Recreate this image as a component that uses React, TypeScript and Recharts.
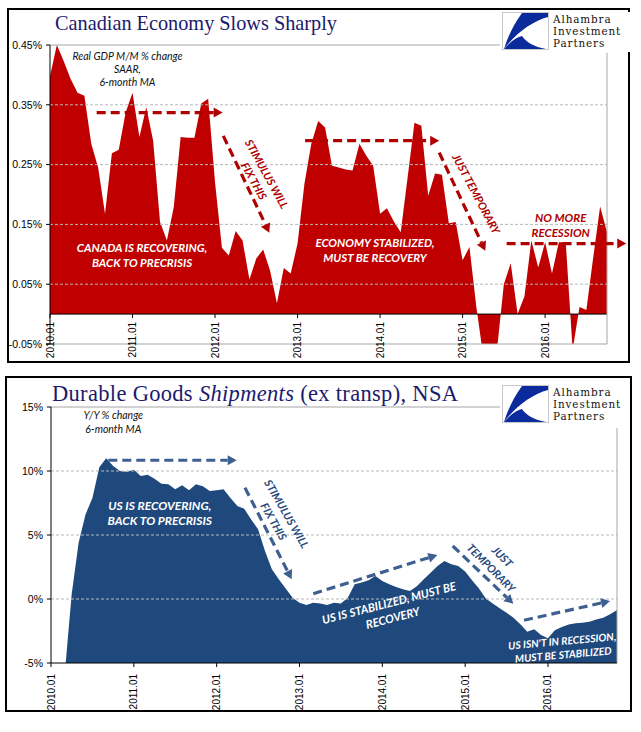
import React from 'react'
import { AreaChart, Area, XAxis, YAxis, ReferenceLine, ReferenceDot } from 'recharts'

// month index 0 = 2010.01
const yearLabels = ['2010.01', '2011.01', '2012.01', '2013.01', '2014.01', '2015.01', '2016.01']
const yearTicks = [0, 12, 24, 36, 48, 60, 72]

// Canada real GDP, M/M % change SAAR, 6-month MA (2010.01 - 2016.10)
const gdpMA = [
  0.398, 0.45, 0.423, 0.393, 0.37, 0.365, 0.285, 0.245, 0.168, 0.269,
  0.275, 0.337, 0.37, 0.296, 0.346, 0.29, 0.154, 0.123, 0.179, 0.296,
  0.295, 0.295, 0.352, 0.36, 0.22, 0.111, 0.098, 0.139, 0.123, 0.058,
  0.093, 0.108, 0.073, 0.018, 0.077, 0.068, 0.118, 0.218, 0.285, 0.323,
  0.312, 0.248, 0.245, 0.242, 0.24, 0.285, 0.265, 0.248, 0.168, 0.177,
  0.155, 0.137, 0.228, 0.32, 0.315, 0.198, 0.235, 0.233, 0.152, 0.154,
  0.09, 0.112, 0.012, -0.07, -0.07, -0.06, 0.05, 0.085, 0.0, 0.03,
  0.123, 0.078, 0.12, 0.068, 0.12, 0.12, -0.06, 0.012, 0.007, 0.095,
  0.18, 0.137,
]
const gdpTicks = [-0.05, 0.05, 0.15, 0.25, 0.35, 0.45]
const gdpGrid = [0.05, 0.15, 0.25, 0.35]

// US durable goods shipments ex transp, Y/Y %, 6-month MA (2010.01 - 2016.11)
const durablesMA = [
  -9, -8, -5.8, 0.4, 4.4, 6.6, 7.9, 10.3, 11.0, 10.4,
  10.0, 9.95, 10.1, 9.6, 9.7, 9.4, 9.0, 8.96, 8.57, 8.88,
  8.49, 8.96, 8.8, 8.44, 8.5, 8.57, 7.9, 7.27, 7.06, 6.22,
  5.44, 3.75, 2.32, 1.54, 0.83, 0.1, -0.29, -0.47, -0.29, -0.36,
  -0.47, -0.29, -0.36, 0.1, 1.15, 1.28, 1.46, 1.8, 1.4, 1.15,
  0.94, 0.76, 0.63, 1.0, 1.54, 2.06, 2.58, 2.97, 2.71, 2.58,
  2.14, 1.46, 0.83, 0.03, -0.36, -0.73, -1.07, -1.46, -1.98, -2.55,
  -2.37, -2.81, -3.07, -2.45, -2.19, -2.0, -1.9, -1.85, -1.77, -1.61,
  -1.46, -1.2, -0.86,
]
const durTicks = [-5, 0, 5, 10, 15]
const durGrid = [0, 5, 10]

const gdpData = gdpMA.map((v, i) => ({ i, v }))
const durData = durablesMA.map((v, i) => ({ i, v }))

const RED = '#c00000'
const DARKRED = '#b00000'
const BLUE = '#1f497d'
const ARROWBLUE = '#3e6090'
const TEXTBLUE = '#274a7a'
const GRID = '#b8b8b8'
const NOTE_FONT = 'Lato, "Open Sans", sans-serif'
const TICK_FONT = '"Liberation Sans", Arial, sans-serif'
const TITLE_FONT = '"Liberation Serif", "Times New Roman", serif'

const YearTick = (props: any) => {
  const { x, y, payload, lift = 0 } = props
  const label = yearLabels[yearTicks.indexOf(payload.value)]
  return (
    <g transform={`translate(${x},${y - lift})`}>
      {lift > 0 && <line x1={0} x2={0} y1={-8} y2={-4} stroke="#000" />}
      <text transform="rotate(-90)" textAnchor="end" dy="0.35em" fontSize={10} fontFamily={TICK_FONT} fill="#000">
        {label}
      </text>
    </g>
  )
}

const arrow = (color: string) => (p: any) => {
  const { x1, y1, x2, y2 } = p
  const a = Math.atan2(y2 - y1, x2 - x1)
  const len = 9
  const w = 5
  const bx = x2 - len * Math.cos(a)
  const by = y2 - len * Math.sin(a)
  const pts = `${x2},${y2} ${bx - w * Math.sin(a)},${by + w * Math.cos(a)} ${bx + w * Math.sin(a)},${by - w * Math.cos(a)}`
  return (
    <g>
      <line x1={x1} y1={y1} x2={bx} y2={by} stroke={color} strokeWidth={3.2} strokeDasharray="9 5" />
      <polygon points={pts} fill={color} />
    </g>
  )
}

interface NoteOpts {
  color: string
  size: number
  gap?: number
  rotate?: number
  bold?: boolean
  central?: boolean
}

const note = (lines: string[], o: NoteOpts) => (p: any) => (
  <text
    transform={`rotate(${o.rotate || 0},${p.cx},${p.cy})`}
    x={p.cx}
    y={p.cy}
    textAnchor="middle"
    dominantBaseline={o.central ? 'central' : 'auto'}
    fontFamily={NOTE_FONT}
    fontStyle="italic"
    fontWeight={o.bold === false ? 400 : 700}
    fontSize={o.size}
    fill={o.color}
  >
    {lines.map((t, k) => (
      <tspan key={k} x={p.cx} dy={k === 0 ? 0 : o.gap || 14}>
        {t}
      </tspan>
    ))}
  </text>
)

const logoLines = ['Alhambra', 'Investment', 'Partners']

const Logo = ({ left, top }: { left: number; top: number }) => (
  <div style={{ position: 'absolute', left, top, width: 128, height: 40, background: '#fff' }}>
    <svg width={128} height={40} style={{ position: 'absolute', left: 0, top: 0 }}>
      <rect x={0.5} y={0.5} width={46} height={37} fill="#fff" stroke="#c8c8c8" />
      <path d="M20,1 L46,1 L46,5 C31,9 15,20 2,37 C6,24 12,12 20,1 Z" fill="#0b2a9b" />
      <path d="M2,37 C9,29 15,25 20,24 C24,30 32,35 44,37 Z" fill="#0b2a9b" />
      {logoLines.map((t, k) => (
        <text
          key={t}
          x={51}
          y={10.8 + k * 12.2}
          fontFamily='"DejaVu Serif", "Liberation Serif", serif'
          fontSize={10.4}
          letterSpacing={0.9}
          fill="#111"
        >
          {t}
        </text>
      ))}
    </svg>
  </div>
)

const Titles = () => (
  <svg width={641} height={732} style={{ position: 'absolute', left: 0, top: 0, pointerEvents: 'none' }}>
    <text x={55} y={30} fontFamily={TITLE_FONT} fontSize={20.3} fill="#1b1a6e" textLength={282} lengthAdjust="spacing">
      Canadian Economy Slows Sharply
    </text>
    <text x={52} y={401} fontFamily={TITLE_FONT} fontSize={22.5} fill="#1b1a6e" textLength={406} lengthAdjust="spacing">
      Durable Goods <tspan fontStyle="italic">Shipments</tspan> (ex transp), NSA
    </text>
  </svg>
)

const GdpChart = () => (
  <AreaChart width={641} height={370} data={gdpData} margin={{ top: 45, right: 34, left: 0, bottom: 0 }}>
    <XAxis
      dataKey="i"
      type="number"
      domain={[0, 81]}
      ticks={yearTicks}
      interval={0}
      height={26}
      tickSize={0}
      tickMargin={0}
      axisLine={{ stroke: '#a6a6a6' }}
      tickLine={false}
      tick={(p: any) => <YearTick {...p} lift={22} />}
    />
    <YAxis
      type="number"
      domain={[-0.05, 0.45]}
      allowDataOverflow
      ticks={gdpTicks}
      width={50}
      tickSize={4}
      tickMargin={4}
      axisLine={{ stroke: '#000' }}
      tickLine={{ stroke: '#000' }}
      tick={{ fontSize: 10.5, fontFamily: TICK_FONT, fill: '#000' }}
      tickFormatter={(v: number) => `${v.toFixed(2)}%`}
    />
    {gdpGrid.map((g) => (
      <ReferenceLine key={g} y={g} stroke={GRID} strokeDasharray="3 2" />
    ))}
    <Area dataKey="v" type="linear" fill={RED} fillOpacity={1} stroke="none" isAnimationActive={false} />
    <ReferenceLine y={0} stroke="#000" />
    <ReferenceLine segment={[{ x: 0, y: 0.45 }, { x: 65.4, y: 0.45 }]} stroke="#a6a6a6" ifOverflow="visible" />
    <ReferenceLine segment={[{ x: 81, y: 0.437 }, { x: 81, y: -0.05 }]} stroke="#a6a6a6" ifOverflow="visible" />

    <ReferenceLine segment={[{ x: 6.79, y: 0.337 }, { x: 25.11, y: 0.337 }]} ifOverflow="visible" shape={arrow(DARKRED)} />
    <ReferenceLine segment={[{ x: 25.2, y: 0.298 }, { x: 31.9, y: 0.136 }]} ifOverflow="visible" shape={arrow(DARKRED)} />
    <ReferenceLine segment={[{ x: 37.1, y: 0.29 }, { x: 56.6, y: 0.29 }]} ifOverflow="visible" shape={arrow(DARKRED)} />
    <ReferenceLine segment={[{ x: 56.6, y: 0.27 }, { x: 63.3, y: 0.106 }]} ifOverflow="visible" shape={arrow(DARKRED)} />
    <ReferenceLine segment={[{ x: 66.4, y: 0.118 }, { x: 83.8, y: 0.118 }]} ifOverflow="visible" shape={arrow(DARKRED)} />

    <ReferenceDot x={11.27} y={0.4245} ifOverflow="visible"
      shape={note(['Real GDP M/M % change', 'SAAR,', '6-month MA'], { color: '#111', size: 10.5, gap: 12.8, bold: false })} />
    <ReferenceDot x={13.38} y={0.1038} ifOverflow="visible"
      shape={note(['CANADA IS RECOVERING,', 'BACK TO PRECRISIS'], { color: '#fff', size: 11.5, gap: 15 })} />
    <ReferenceDot x={47.26} y={0.1122} ifOverflow="visible"
      shape={note(['ECONOMY STABILIZED,', 'MUST BE RECOVERY'], { color: '#fff', size: 11.5, gap: 15 })} />
    <ReferenceDot x={74.27} y={0.1538} ifOverflow="visible"
      shape={note(['NO MORE', 'RECESSION'], { color: DARKRED, size: 11.5, gap: 15 })} />
    <ReferenceDot x={31.63} y={0.235} ifOverflow="visible"
      shape={note(['STIMULUS WILL', 'FIX THIS'], { color: DARKRED, size: 11, gap: 14.5, rotate: 61, central: true })} />
    <ReferenceDot x={62.09} y={0.2017} ifOverflow="visible"
      shape={note(['JUST TEMPORARY'], { color: DARKRED, size: 11, rotate: 62, central: true })} />
  </AreaChart>
)

const DurablesChart = () => (
  <AreaChart width={641} height={362} data={durData} margin={{ top: 37, right: 24, left: 0, bottom: 0 }}>
    <XAxis
      dataKey="i"
      type="number"
      domain={[0, 82]}
      ticks={yearTicks}
      interval={0}
      height={69}
      tickSize={4}
      tickMargin={7}
      axisLine={{ stroke: '#000' }}
      tickLine={{ stroke: '#000' }}
      tick={(p: any) => <YearTick {...p} />}
    />
    <YAxis
      type="number"
      domain={[-5, 15]}
      allowDataOverflow
      ticks={durTicks}
      width={51}
      tickSize={4}
      tickMargin={4}
      axisLine={{ stroke: '#000' }}
      tickLine={{ stroke: '#000' }}
      tick={{ fontSize: 10.5, fontFamily: TICK_FONT, fill: '#000' }}
      tickFormatter={(v: number) => `${v}%`}
    />
    {durGrid.map((g) => (
      <ReferenceLine key={g} y={g} stroke={GRID} strokeDasharray="3 2" />
    ))}
    <Area dataKey="v" type="linear" baseValue={-5} fill={BLUE} fillOpacity={1} stroke="none" isAnimationActive={false} />
    <ReferenceLine segment={[{ x: 0, y: 15 }, { x: 65.05, y: 15 }]} stroke="#a6a6a6" ifOverflow="visible" />
    <ReferenceLine segment={[{ x: 82, y: 13.36 }, { x: 82, y: -5 }]} stroke="#a6a6a6" ifOverflow="visible" />

    <ReferenceLine segment={[{ x: 8.3, y: 10.84 }, { x: 26.9, y: 10.84 }]} ifOverflow="visible" shape={arrow(ARROWBLUE)} />
    <ReferenceLine segment={[{ x: 28.1, y: 8.7 }, { x: 34.87, y: 1.54 }]} ifOverflow="visible" shape={arrow(ARROWBLUE)} />
    <ReferenceLine segment={[{ x: 38.0, y: 0.41 }, { x: 55.97, y: 3.44 }]} ifOverflow="visible" shape={arrow(ARROWBLUE)} />
    <ReferenceLine segment={[{ x: 58.2, y: 4.14 }, { x: 66.98, y: -0.37 }]} ifOverflow="visible" shape={arrow(ARROWBLUE)} />
    <ReferenceLine segment={[{ x: 68.53, y: -1.66 }, { x: 80.99, y: -0.16 }]} ifOverflow="visible" shape={arrow(ARROWBLUE)} />

    <ReferenceDot x={9.03} y={14.04} ifOverflow="visible"
      shape={note(['Y/Y % change', '6-month MA'], { color: '#111', size: 10.5, gap: 13.4, bold: false })} />
    <ReferenceDot x={15.76} y={6.93} ifOverflow="visible"
      shape={note(['US IS RECOVERING,', 'BACK TO PRECRISIS'], { color: '#fff', size: 12, gap: 14.7 })} />
    <ReferenceDot x={34.26} y={6.68} ifOverflow="visible"
      shape={note(['STIMULUS WILL', 'FIX THIS'], { color: TEXTBLUE, size: 11, gap: 15, rotate: 60, central: true })} />
    <ReferenceDot x={49.11} y={-0.625} ifOverflow="visible"
      shape={note(['US IS STABILIZED, MUST BE', 'RECOVERY'], { color: '#fff', size: 11.5, gap: 15.5, rotate: -14.5 })} />
    <ReferenceDot x={65.49} y={3.36} ifOverflow="visible"
      shape={note(['JUST', 'TEMPORARY'], { color: TEXTBLUE, size: 11, gap: 16, rotate: 45, central: true })} />
    <ReferenceDot x={74.1} y={-3.59} ifOverflow="visible"
      shape={note(["US ISN'T IN RECESSION,", 'MUST BE STABILIZED'], { color: '#fff', size: 10.4, gap: 13.6, rotate: -5 })} />
  </AreaChart>
)

export default function App() {
  return (
    <div style={{ position: 'absolute', left: 0, top: 0, width: 641, height: 732, background: '#fff' }}>
      <div style={{ position: 'absolute', left: 7, top: 8, width: 623, height: 355, border: '2px solid #000', boxSizing: 'border-box' }} />
      <div style={{ position: 'absolute', left: 5, top: 376, width: 627, height: 336, border: '2px solid #000', boxSizing: 'border-box' }} />

      <div style={{ position: 'absolute', left: 0, top: 0 }}>
        <GdpChart />
      </div>
      <div style={{ position: 'absolute', left: 0, top: 370 }}>
        <DurablesChart />
      </div>

      <Titles />

      <Logo left={502} top={12} />
      <Logo left={502} top={385} />
    </div>
  )
}
